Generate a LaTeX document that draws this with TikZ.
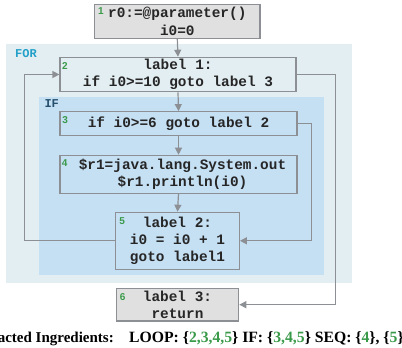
\documentclass[tikz,border=0pt]{standalone}
\usepackage{fontspec}
\setmainfont{Liberation Serif}
\setmonofont{Liberation Mono}
\setsansfont{Liberation Sans}
\usetikzlibrary{arrows.meta}
\definecolor{forbg}{HTML}{E3EEF2}
\definecolor{ifbg}{HTML}{C5DFF3}
\definecolor{boxgray}{HTML}{E0E0E0}
\definecolor{linegray}{HTML}{8C8F93}
\definecolor{numgreen}{HTML}{3A9A4A}
\definecolor{forcol}{HTML}{22A0C8}
\definecolor{ifcol}{HTML}{24506E}
\tikzset{
  stmt/.style={draw=linegray, line width=1.2pt, align=center, inner sep=0pt,
    font=\ttfamily\bfseries\fontsize{14.4}{17.3}\selectfont, text=black!85},
  numlab/.style={font=\sffamily\bfseries\fontsize{10}{10}\selectfont, text=numgreen, inner sep=0pt},
  regionlab/.style={font=\ttfamily\bfseries\fontsize{12}{12}\selectfont, inner sep=0pt, anchor=west},
  flow/.style={draw=linegray, line width=1.2pt, -{Triangle[length=7pt,width=7pt]}},
  ingr/.style={font=\bfseries\fontsize{15}{18}\selectfont, inner sep=0pt}
}
\begin{document}
\begin{tikzpicture}[x=1pt,y=-1pt]
\useasboundingbox (0,0) rectangle (402,348);
\clip (0,0) rectangle (402,348);
% regions
\fill[forbg] (6,44) rectangle (352,282.7);
\node[regionlab, text=forcol] (forlab) at (15,53.7) {FOR};
\fill[ifbg] (39,97.3) rectangle (324,275);
\node[regionlab, text=ifcol] (iflab) at (44.3,103.7) {IF};
% statements
\node[stmt, fill=boxgray, minimum width=165.3pt, minimum height=33.6pt] (n1) at (177.3,21.5) {r0:=@parameter()\\i0=0};
\node[stmt, minimum width=236pt, minimum height=34.4pt] (n2) at (178,74.5) {label 1:\\if i0>=10 goto label 3};
\node[stmt, minimum width=237pt, minimum height=23.6pt] (n3) at (178.5,123.5) {if i0>=6 goto label 2};
\node[stmt, minimum width=237pt, minimum height=38pt] (n4) at (178.5,174.3) {\hspace*{8pt}\$r1=java.lang.System.out\\\hspace*{8pt}\$r1.println(i0)};
\node[stmt, minimum width=123.6pt, minimum height=57pt] (n5) at (177.5,240.8) {label 2:\\i0 = i0 + 1\\goto label1};
\node[stmt, fill=boxgray, minimum width=122.4pt, minimum height=32.7pt] (n6) at (177.5,304.7) {label 3:\\return};
% numbers
\node[numlab] (k1) at ([shift={(6.8,7.3)}]n1.north west) {1};
\node[numlab] (k2) at ([shift={(5.5,9.4)}]n2.north west) {2};
\node[numlab] (k3) at ([shift={(5.7,9)}]n3.north west) {3};
\node[numlab] (k4) at ([shift={(5.2,8.7)}]n4.north west) {4};
\node[numlab] (k5) at ([shift={(7,9.4)}]n5.north west) {5};
\node[numlab] (k6) at ([shift={(7,9)}]n6.north west) {6};
% connectors
\draw[flow] (n1.south) -- (n2.north);
\draw[flow] (n2.south) -- (n3.north);
\draw[flow] (n3.south) -- (n4.north);
\draw[flow] (n4.south) -- (n5.north);
\draw[flow] (n3.east) -- ++(13.7,0) |- (n5.east);
\draw[flow] (n2.east) -- ++(39,0) |- (n6.east);
\draw[flow] (n5.west) -- ++(-90.7,0) |- (n2.west);
% ingredients
\node[ingr, anchor=base east] (inglab) at (114,342) {Extracted Ingredients:};
\node[ingr, anchor=base west, font=\bfseries\fontsize{15.7}{18}\selectfont] (ingset) at (129,342) {LOOP: \{\textcolor{numgreen}{2,3,4,5}\} IF: \{\textcolor{numgreen}{3,4,5}\} SEQ: \{\textcolor{numgreen}{4}\}, \{\textcolor{numgreen}{5}\}};
\end{tikzpicture}
\end{document}
